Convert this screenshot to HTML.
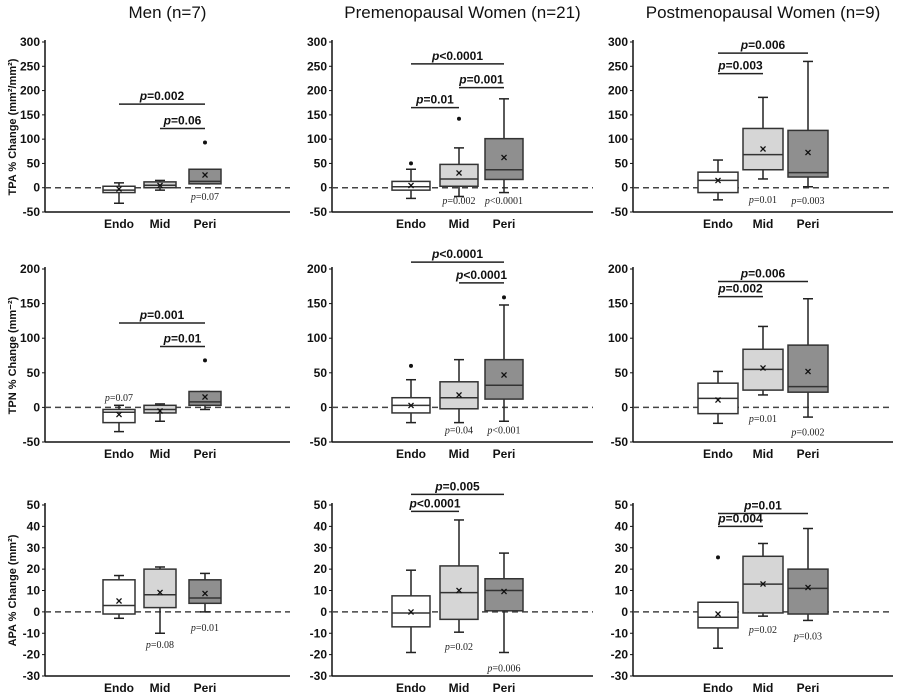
<!DOCTYPE html>
<html><head><meta charset="utf-8"><style>
body{margin:0;background:#fff;}
svg{display:block;font-family:"Liberation Sans",Arial,sans-serif;}
</style></head><body>
<svg id="fig" width="900" height="692" viewBox="0 0 900 692"></svg>
<script>
// ---- data (panels ordered row by row: TPA, TPN, APA x Men, Pre, Post) ----
const categories = ["Endo","Mid","Peri"];
const groupTitles = ["Men (n=7)","Premenopausal Women (n=21)","Postmenopausal Women (n=9)"];
const rowTitles = ["TPA % Change (mm\u00b2/mm\u00b2)","TPN % Change (mm\u207b\u00b2)","APA % Change (mm\u00b2)"];
const rowTicks = [[300,250,200,150,100,50,0,-50],[200,150,100,50,0,-50],[50,40,30,20,10,0,-10,-20,-30]];
const whiskerLow = [[-32,-5,8],[-22,-18,-10],[-25,18,2],[-35,-20,-3],[-22,-22,-20],[-23,18,-14],[-3,-10,0],[-19,-9.5,-19],[-17,-2,-4]];
const q1 = [[-10,0,8],[-5,3,17],[-10,37,22],[-22,-8,3],[-8,-2,12],[-9,25,22],[-1,2,4],[-7,-3.5,0.5],[-7.5,-0.5,-1]];
const median = [[-5,5,13],[2,18,37],[15,68,31],[-7,-3,8],[3,14,32],[13,55,30],[3,8,6.5],[-0.5,9,10],[-2.5,13,11]];
const q3 = [[3,12,38],[13,48,101],[32,122,118],[-3,3,23],[14,37,69],[35,84,90],[15,20,15],[7.5,21.5,15.5],[4.5,26,20]];
const whiskerHigh = [[10,15,38],[38,82,183],[57,186,260],[3,5,23],[40,69,148],[52,117,157],[17,21,18],[19.5,43,27.5],[4.5,32,39]];
const means = [[-3,5,26],[5,30,62],[15,80,73],[-10,-5,15],[3,18,47],[11,57,52],[5,9,8.5],[0,10,9.5],[-1,13,11.5]];
const outliers = [[[],[],[93]],[[50],[142],[]],[[],[],[]],[[],[],[68]],[[60],[],[159]],[[],[],[]],[[],[],[]],[[],[],[]],[[25.5],[],[]]];
// comparison bars: [fromIdx, toIdx, yValue, label]
const compBars = [
 [[0,2,172,"=0.002"],[1,2,122,"=0.06"]],
 [[0,1,165,"=0.01"],[1,2,206,"=0.001"],[0,2,255,"<0.0001"]],
 [[0,1,235,"=0.003"],[0,2,277,"=0.006"]],
 [[0,2,122,"=0.001"],[1,2,88,"=0.01"]],
 [[0,2,210,"<0.0001"],[1,2,180,"<0.0001"]],
 [[0,1,160,"=0.002"],[0,2,182,"=0.006"]],
 [],
 [[0,1,47,"<0.0001"],[0,2,55,"=0.005"]],
 [[0,1,40,"=0.004"],[0,2,46,"=0.01"]]
];
// per-box p-values vs baseline: [catIdx, yValue, label]
const boxP = [
 [[2,-17,"=0.07"]],[[1,-25,"=0.002"],[2,-25,"<0.0001"]],[[1,-23,"=0.01"],[2,-25,"=0.003"]],
 [[0,15,"=0.07"]],[[1,-32,"=0.04"],[2,-32,"<0.001"]],[[1,-15,"=0.01"],[2,-35,"=0.002"]],
 [[1,-15,"=0.08"],[2,-7,"=0.01"]],[[1,-16,"=0.02"],[2,-26,"=0.006"]],[[1,-8,"=0.02"],[2,-11,"=0.03"]]
];

// ---- layout ----
const rowGeom = [{top:42,bot:212},{top:269,bot:442},{top:505,bot:676}];
const colAxisX = [45,332,633];
const colAxisEnd = [290,593,893];
const colCenters = [[119,160,205],[411,459,504],[718,763,808]];
const boxW = [32,38,40];
const fills = ["#ffffff","#d6d6d6","#8f8f8f"];
const NS="http://www.w3.org/2000/svg";
const svg=document.getElementById('fig');
function mk(tag,attrs,parent,text){const e=document.createElementNS(NS,tag);for(const k in attrs)e.setAttribute(k,attrs[k]);if(text!==undefined)e.textContent=text;(parent||svg).appendChild(e);return e;}

groupTitles.forEach((t,c)=>{
 const e=mk('text',{x:(colAxisX[c]+colAxisEnd[c])/2+ (c===0?0:0),y:18,'text-anchor':'middle','font-size':17,fill:'#111'},svg,t);
 
 
});

for(let r=0;r<3;r++){
 const ticks=rowTicks[r];const vmax=ticks[0],vmin=ticks[ticks.length-1];
 const g=rowGeom[r];
 const yv=v=>g.top+(vmax-v)/(vmax-vmin)*(g.bot-g.top);
 const yt=mk('text',{x:0,y:0,transform:`translate(16,${(g.top+g.bot)/2}) rotate(-90)`,'text-anchor':'middle','font-size':11,'font-weight':'bold',fill:'#111'},svg,rowTitles[r]);
 
 
 for(let c=0;c<3;c++){
  const p=r*3+c;
  const gp=mk('g',{});
  
  
  const ax=colAxisX[c];
  // axes
  mk('line',{x1:ax,y1:g.top-2,x2:ax,y2:g.bot,stroke:'#111','stroke-width':1.5},gp);
  mk('line',{x1:ax,y1:g.bot,x2:colAxisEnd[c],y2:g.bot,stroke:'#111','stroke-width':1.5},gp);
  ticks.forEach(t=>{
   mk('line',{x1:ax-3,y1:yv(t),x2:ax,y2:yv(t),stroke:'#111'},gp);
   const tl=mk('text',{x:ax-5,y:yv(t)+4,'text-anchor':'end','font-size':12,'font-weight':'bold',fill:'#111'},gp,String(t));
   
   
  });
  // zero line
  mk('line',{x1:ax,y1:yv(0),x2:colAxisEnd[c],y2:yv(0),stroke:'#444','stroke-width':1.5,'stroke-dasharray':'6,4'},gp);
  for(let k=0;k<3;k++){
   const cx=colCenters[c][k],w=boxW[c];
   const bg=mk('g',{},gp);
   
   
   mk('line',{x1:cx,y1:yv(whiskerLow[p][k]),x2:cx,y2:yv(whiskerHigh[p][k]),stroke:'#222','stroke-width':1.5},bg);
   mk('line',{x1:cx-5,y1:yv(whiskerLow[p][k]),x2:cx+5,y2:yv(whiskerLow[p][k]),stroke:'#222','stroke-width':1.5},bg);
   mk('line',{x1:cx-5,y1:yv(whiskerHigh[p][k]),x2:cx+5,y2:yv(whiskerHigh[p][k]),stroke:'#222','stroke-width':1.5},bg);
   mk('rect',{x:cx-w/2,y:yv(q3[p][k]),width:w,height:Math.max(1,yv(q1[p][k])-yv(q3[p][k])),fill:fills[k],stroke:'#333','stroke-width':1.5},bg);
   mk('line',{x1:cx-w/2,y1:yv(median[p][k]),x2:cx+w/2,y2:yv(median[p][k]),stroke:'#333','stroke-width':1.5},bg);
   mk('text',{x:cx,y:yv(means[p][k])+4,'text-anchor':'middle','font-size':12,'font-weight':'bold',fill:'#111'},bg,'\u00d7');
   outliers[p][k].forEach(o=>{mk('circle',{cx:cx,cy:yv(o),r:2,fill:'#111'},bg);});
   const cl=mk('text',{x:cx,y:g.bot+16,'text-anchor':'middle','font-size':12,'font-weight':'bold',fill:'#111'},gp,categories[k]);
   
   
  }
  compBars[p].forEach(b=>{
   const x1=colCenters[c][b[0]],x2=colCenters[c][b[1]],y=yv(b[2]);
   mk('line',{x1:x1,y1:y,x2:x2,y2:y,stroke:'#222','stroke-width':1.5},gp);
   const t=mk('text',{x:(x1+x2)/2,y:y-4,'text-anchor':'middle','font-size':12,'font-weight':'bold',fill:'#111'},gp);
   
   
   mk('tspan',{'font-style':'italic'},t,'p');mk('tspan',{},t,b[3]);
  });
  boxP[p].forEach(b=>{
   const t=mk('text',{x:colCenters[c][b[0]],y:yv(b[1])+4,'text-anchor':'middle','font-size':10,fill:'#222','font-family':'Liberation Serif, serif'},gp);
   
   
   mk('tspan',{'font-style':'italic'},t,'p');mk('tspan',{},t,b[2]);
  });
 }
}
</script>
</body></html>
